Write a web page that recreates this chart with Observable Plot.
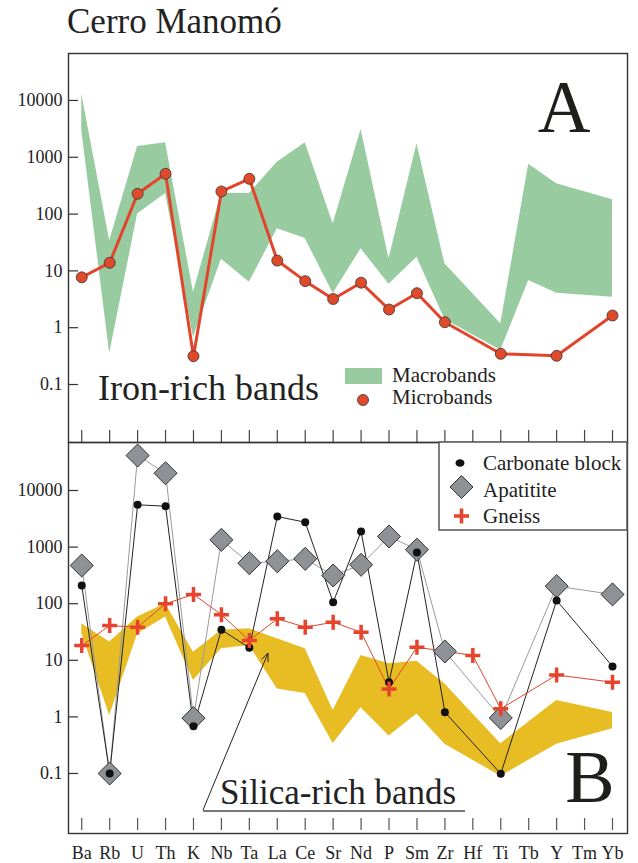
<!DOCTYPE html>
<html>
<head>
<meta charset="utf-8">
<script src="https://cdn.jsdelivr.net/npm/d3@7"></script>
<script src="https://cdn.jsdelivr.net/npm/@observablehq/plot@0.6"></script>
<style>
  body { margin: 0; background: #fff; }
  #wrap { position: relative; width: 638px; height: 863px; font-family: "Liberation Serif", "Times New Roman", serif; }
  #wrap svg { position: absolute; left: 0; max-width: none; }
</style>
</head>
<body>
<div id="wrap"></div>
<script>
// Elements, in spider-diagram order
const elements = ["Ba","Rb","U","Th","K","Nb","Ta","La","Ce","Sr","Nd","P","Sm","Zr","Hf","Ti","Tb","Y","Tm","Yb"];
const yTicks = [0.1, 1, 10, 100, 1000, 10000];

// Panel A — iron-rich bands
const macroLow  = [3000, 0.35, 100, 230, 0.68, 16, 6.3, 55, 37, 4.0, 24.5, 5.8, 17.4, 1.4, null, 0.40, 6.8, 4.05, null, 3.45];
const macroHigh = [13000, 34, 1550, 1800, 4.2, 230, 230, 820, 1800, 67, 3080, 16.3, 1730, 13.3, null, 1.17, 750, 341, null, 178];
const microbands = [7.7, 13.9, 228, 512, 0.315, 250, 418, 15.2, 6.6, 3.2, 6.2, 2.09, 4.05, 1.25, null, 0.347, null, 0.32, null, 1.64];

// Panel B — silica-rich bands and reference materials
const silicaLow  = [30, 1.06, 29, 58, 4.4, 16, 18.3, 3.1, 2.6, 0.34, 1.45, 0.46, 1.13, 0.33, null, 0.089, null, 0.33, null, 0.62];
const silicaHigh = [44, 21, 58, 100, 13.9, 34, 36, 24, 16, 1.3, 12.2, 8.7, 9.6, 3.8, null, 0.335, null, 1.95, null, 1.2];
const carbonate = [209, 0.1, 5590, 5280, 0.68, 34.6, 16.6, 3470, 2750, 106, 1890, 4.1, 800, 1.21, null, 0.099, null, 114, null, 7.8];
const apatite   = [473, 0.1, 41500, 20200, 0.95, 1345, 520, 563, 620, 315, 487, 1540, 900, 14.3, null, 0.96, null, 204, null, 146];
const gneiss    = [18.2, 41, 38.5, 99.6, 146, 64, 22.4, 54, 38.5, 47, 31.4, 3.1, 17, null, 12.2, 1.39, null, 5.5, null, 4.1];

const serif = '"Liberation Serif", "Times New Roman", serif';
const green = "#98cba0", yellow = "#e8bd24", red = "#e2452b", grey = "#8e9296";

// x is the element's position in the sequence; the axis prints the element name
const idx = d3.range(elements.length);
const series = arr => idx.map(i => ({i, v: arr[i]})).filter(d => d.v != null);
const band = (lo, hi) => idx.map(i => ({i, lo: lo[i], hi: hi[i]})).filter(d => d.lo != null);

const wrap = document.getElementById("wrap");

function panel({height, marginTop, marginBottom, top, domain, showX, marks}) {
  const p = Plot.plot({
    width: 638, height, marginTop, marginBottom, marginLeft: 68, marginRight: 11,
    style: {fontFamily: serif, fontSize: "18px", color: "#222", background: "transparent", overflow: "visible"},
    x: {type: "linear", domain: [-0.474, 19.537], ticks: idx, tickFormat: i => elements[i],
        axis: showX ? "bottom" : null, tickSize: 0, tickPadding: 13, label: null},
    y: {type: "log", domain, ticks: yTicks, tickFormat: d => String(d), tickSize: 0, tickPadding: 6, label: null},
    marks: [
      ...marks,
      Plot.tickY(yTicks, {y: d => d, stroke: "#333", strokeWidth: 1.2, insetRight: 549}),
      Plot.frame({stroke: "#333", strokeWidth: 1.4})
    ]
  });
  p.style.top = top + "px";
  wrap.appendChild(p);
}

// Panel A
panel({
  height: 445, marginTop: 53, marginBottom: 3, top: 0,
  domain: [0.00953, 67100], showX: false,
  marks: [
    Plot.areaY(band(macroLow, macroHigh), {x: "i", y1: "lo", y2: "hi", fill: green}),
    Plot.line(series(microbands), {x: "i", y: "v", stroke: red, strokeWidth: 3}),
    Plot.dot(series(microbands), {x: "i", y: "v", r: 5.5, fill: "#df4a2b", stroke: "#333", strokeWidth: 0.8}),
    Plot.tickX(idx, {x: d => d, stroke: "#444", strokeWidth: 1.2, insetTop: 377})
  ]
});

// Panel B
panel({
  height: 431, marginTop: 10, marginBottom: 30, top: 432,
  domain: [0.0087, 70500], showX: true,
  marks: [
    Plot.areaY(band(silicaLow, silicaHigh), {x: "i", y1: "lo", y2: "hi", fill: yellow}),
    Plot.line(series(apatite), {x: "i", y: "v", stroke: "#9a9a9a", strokeWidth: 1}),
    Plot.line(series(carbonate), {x: "i", y: "v", stroke: "#222", strokeWidth: 1}),
    Plot.line(series(gneiss), {x: "i", y: "v", stroke: red, strokeWidth: 1}),
    Plot.dot(series(apatite), {x: "i", y: "v", symbol: "diamond2", r: 10.4, fill: grey, stroke: "#333", strokeWidth: 1}),
    Plot.dot(series(carbonate), {x: "i", y: "v", r: 4, fill: "#111"}),
    Plot.dot(series(gneiss), {x: "i", y: "v", symbol: "plus", r: 4.9, stroke: "#e8432c", strokeWidth: 3.5}),
    Plot.tickX(idx, {x: d => d, stroke: "#555", strokeWidth: 1.2, insetTop: 376, insetBottom: 3})
  ]
});

// Titles, panel letters, annotations and legends
const tip = [268, 653], tail = [203, 810];
const ang = Math.atan2(tail[1] - tip[1], tail[0] - tip[0]);
const head = [ang - 0.4, ang + 0.4].map(a => [tip[0] + 9 * Math.cos(a), tip[1] + 9 * Math.sin(a)]);

const ns = "http://www.w3.org/2000/svg";
const ov = document.createElementNS(ns, "svg");
ov.setAttribute("width", 638);
ov.setAttribute("height", 863);
ov.style.top = "0px";
ov.style.fontFamily = serif;
ov.style.pointerEvents = "none";
ov.innerHTML = `
  <text x="67" y="33" font-size="35" fill="#222">Cerro Manomó</text>
  <text x="564" y="132" font-size="73" fill="#1e1e1a" text-anchor="middle">A</text>
  <text x="98" y="400" font-size="36" fill="#222">Iron-rich bands</text>
  <rect x="345" y="368" width="37" height="16" fill="${green}"/>
  <text x="392" y="382" font-size="21" fill="#222">Macrobands</text>
  <circle cx="363" cy="400" r="5.5" fill="#df4a2b" stroke="#333" stroke-width="0.8"/>
  <text x="392" y="404" font-size="21" fill="#222">Microbands</text>

  <rect x="439" y="442" width="188" height="88" fill="#fff" stroke="#555" stroke-width="1.5"/>
  <ellipse cx="460" cy="463" rx="4.5" ry="3.8" fill="#111"/>
  <text x="483" y="470" font-size="21" fill="#222">Carbonate block</text>
  <path d="M461.5,475.5 L473,487 L461.5,498.5 L450,487 Z" fill="${grey}" stroke="#333" stroke-width="1"/>
  <text x="483" y="497" font-size="21" fill="#222">Apatitite</text>
  <path d="M454,516 H469 M461.5,508.5 V523.5" stroke="#e8432c" stroke-width="3.5"/>
  <text x="483" y="523" font-size="21" fill="#222">Gneiss</text>

  <text x="590" y="802" font-size="74" fill="#1e1e1a" text-anchor="middle">B</text>
  <text x="220" y="804" font-size="35" fill="#222">Silica-rich bands</text>
  <line x1="203" y1="811" x2="465" y2="811" stroke="#777" stroke-width="2"/>
  <line x1="${tail[0]}" y1="${tail[1]}" x2="${tip[0]}" y2="${tip[1]}" stroke="#222" stroke-width="1"/>
  <path d="M${head[0][0]},${head[0][1]} L${tip[0]},${tip[1]} L${head[1][0]},${head[1][1]}" fill="none" stroke="#222" stroke-width="1"/>
`;
wrap.appendChild(ov);
</script>
</body>
</html>
